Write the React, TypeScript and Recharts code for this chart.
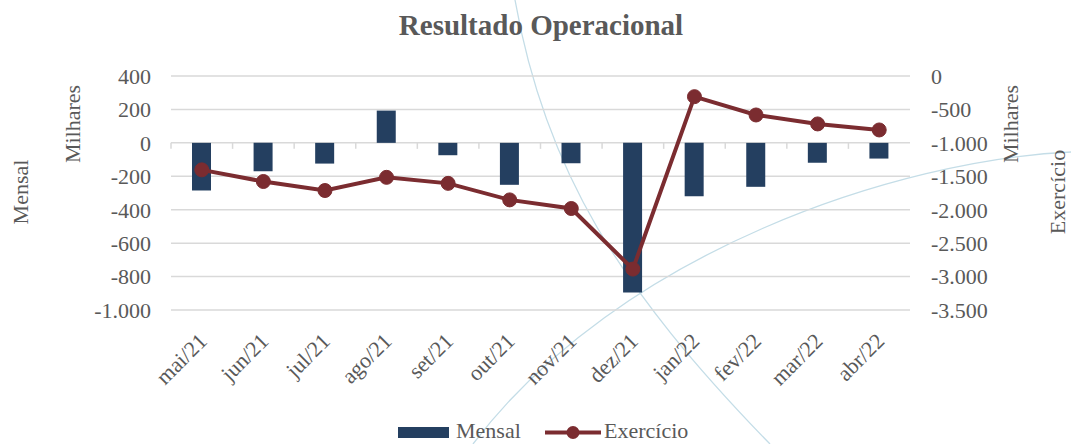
import { ComposedChart, Bar, Line, XAxis, YAxis, CartesianGrid, ReferenceLine } from 'recharts';

const months = ['mai/21', 'jun/21', 'jul/21', 'ago/21', 'set/21', 'out/21', 'nov/21', 'dez/21', 'jan/22', 'fev/22', 'mar/22', 'abr/22'];
const mensal = [-285, -170, -124, 193, -74, -251, -122, -896, -319, -263, -119, -94];
const exercicio = [-1404, -1578, -1713, -1516, -1606, -1853, -1982, -2888, -309, -583, -717, -807];
const leftTicks = [400, 200, 0, -200, -400, -600, -800, -1000];
const rightTicks = [0, -500, -1000, -1500, -2000, -2500, -3000, -3500];

const data = months.map((m, i) => ({ month: m, mensal: mensal[i], exercicio: exercicio[i] }));

const FONT = '"Liberation Serif", "Times New Roman", serif';
const TEXT = '#595959';
const GRID = '#d9d9d9';
const NAVY = '#243f60';
const WINE = '#7b2c30';
const ARC = '#c4dde7';

// 1.000 style thousands
const fmt = (v: number) => {
  const s = Math.abs(v).toString().replace(/\B(?=(\d{3})+(?!\d))/g, '.');
  return v < 0 ? `-${s}` : s;
};

const MonthTick = ({ x, y, payload }: any) => (
  <g transform={`translate(${x + 1},${y + 27})`}>
    <text textAnchor="end" dy="0.35em" transform="rotate(-45)" fill={TEXT} fontSize={22} fontFamily={FONT}>
      {payload.value}
    </text>
  </g>
);

const tickStyle = { fontSize: 22, fill: TEXT, fontFamily: FONT };

function Backdrop() {
  const vText = (label: string, x: number, y: number) => (
    <text x={x} y={y} transform={`rotate(-90, ${x}, ${y})`} textAnchor="middle" fill={TEXT} fontSize={22} fontFamily={FONT}>
      {label}
    </text>
  );
  return (
    <svg width={1071} height={444} style={{ position: 'absolute', left: 0, top: 0 }}>
      <path d="M515,0 C545,170 620,290 770,444" fill="none" stroke={ARC} strokeWidth={1.3} />
      <path d="M1071,152 C900,160 620,250 473,444" fill="none" stroke={ARC} strokeWidth={1.3} />
      <text x={541} y={35} textAnchor="middle" fill={TEXT} fontSize={29} fontWeight="bold" fontFamily={FONT}>
        Resultado Operacional
      </text>
      {vText('Mensal', 28, 192)}
      {vText('Milhares', 80, 124)}
      {vText('Milhares', 1018, 124)}
      {vText('Exercício', 1065, 192)}
      <g fontFamily={FONT} fontSize={22} fill={TEXT}>
        <rect x={398} y={427} width={51} height={11} fill={NAVY} />
        <text x={456} y={438}>Mensal</text>
        <line x1={545} y1={432.5} x2={601} y2={432.5} stroke={WINE} strokeWidth={4} />
        <circle cx={573} cy={432.5} r={6.5} fill={WINE} />
        <text x={604} y={438}>Exercício</text>
      </g>
    </svg>
  );
}

export default function App() {
  return (
    <div style={{ position: 'absolute', left: 0, top: 0, width: 1071, height: 444, background: '#fff' }}>
      <Backdrop />
      <div style={{ position: 'absolute', left: 0, top: 0 }}>
        <ComposedChart width={1071} height={444} data={data} margin={{ top: 76, right: 0, bottom: 0, left: 0 }}>
          <CartesianGrid vertical={false} stroke={GRID} strokeWidth={1.5} yAxisId="left" />
          <XAxis
            dataKey="month"
            axisLine={false}
            tickLine={false}
            tickSize={0}
            tickMargin={0}
            height={134}
            interval={0}
            tick={<MonthTick />}
          />
          <YAxis
            yAxisId="left"
            domain={[-1000, 400]}
            ticks={leftTicks}
            width={171}
            axisLine={false}
            tickLine={false}
            tickSize={0}
            tickMargin={20}
            tickFormatter={fmt}
            tick={tickStyle}
          />
          <YAxis
            yAxisId="right"
            orientation="right"
            domain={[-3500, 0]}
            ticks={rightTicks}
            width={161}
            axisLine={false}
            tickLine={false}
            tickSize={0}
            tickMargin={21}
            tickFormatter={fmt}
            tick={{ ...tickStyle, textAnchor: 'start' }}
          />
          {/* small category ticks hanging off the zero line */}
          {months.map((m) => (
            <ReferenceLine
              key={m}
              yAxisId="left"
              position="start"
              segment={[{ x: m, y: 0 }, { x: m, y: -36 }]}
              stroke={GRID}
              strokeWidth={1.5}
            />
          ))}
          <ReferenceLine
            yAxisId="left"
            position="end"
            segment={[{ x: months[months.length - 1], y: 0 }, { x: months[months.length - 1], y: -36 }]}
            stroke={GRID}
            strokeWidth={1.5}
          />
          <Bar yAxisId="left" dataKey="mensal" fill={NAVY} barSize={19} isAnimationActive={false} />
          <Line
            yAxisId="right"
            dataKey="exercicio"
            stroke={WINE}
            strokeWidth={4}
            dot={{ r: 7, fill: WINE, stroke: WINE, strokeWidth: 1 }}
            activeDot={false}
            isAnimationActive={false}
          />
        </ComposedChart>
      </div>
    </div>
  );
}
